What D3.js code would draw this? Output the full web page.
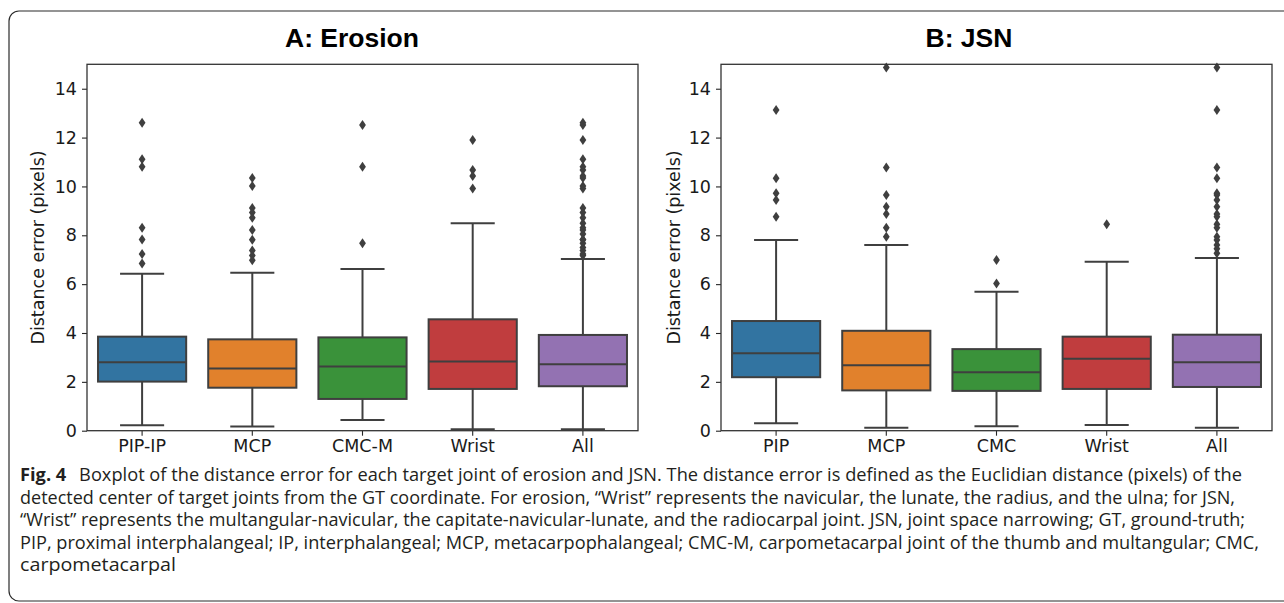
<!DOCTYPE html>
<html>
<head>
<meta charset="utf-8">
<script src="https://cdn.jsdelivr.net/npm/d3@7"></script>
<style>
  html, body { margin: 0; padding: 0; background: #fff; }
  svg { display: block; }
</style>
</head>
<body>
<svg id="chart" width="1284" height="603"></svg>
<script>
// ---------------- data ----------------
const yTicks = [0, 2, 4, 6, 8, 10, 12, 14];
const boxColors = ["#3274a1", "#e1812c", "#3a923a", "#c03d3e", "#9372b2"];

const erosionTitle = "A: Erosion";
const erosionCats = ["PIP-IP", "MCP", "CMC-M", "Wrist", "All"];
const erosionQ1 = [2.01, 1.76, 1.30, 1.71, 1.82];
const erosionMedian = [2.80, 2.55, 2.63, 2.83, 2.72];
const erosionQ3 = [3.85, 3.74, 3.82, 4.56, 3.92];
const erosionLow = [0.22, 0.17, 0.44, 0.06, 0.06];
const erosionHigh = [6.43, 6.47, 6.62, 8.49, 7.03];
const erosionOutliers = [
  [12.61, 11.11, 10.81, 8.31, 7.83, 7.23, 6.85],
  [10.35, 10.02, 9.12, 8.93, 8.72, 8.22, 7.82, 7.38, 7.17, 6.98],
  [12.51, 10.81, 7.67],
  [11.90, 10.67, 10.43, 9.92],
  [12.61, 12.51, 11.90, 11.11, 10.81, 10.67, 10.43, 10.35, 10.02, 9.92, 9.12, 8.93,
   8.72, 8.49, 8.31, 8.22, 8.05, 7.83, 7.82, 7.67, 7.50, 7.38, 7.23, 7.17]
];

const jsnTitle = "B: JSN";
const jsnCats = ["PIP", "MCP", "CMC", "Wrist", "All"];
const jsnQ1 = [2.19, 1.65, 1.63, 1.71, 1.79];
const jsnMedian = [3.17, 2.68, 2.39, 2.95, 2.80];
const jsnQ3 = [4.49, 4.09, 3.34, 3.85, 3.93];
const jsnLow = [0.31, 0.12, 0.18, 0.23, 0.12];
const jsnHigh = [7.81, 7.60, 5.69, 6.92, 7.07];
const jsnOutliers = [
  [13.13, 10.33, 9.72, 9.44, 8.76],
  [14.87, 10.78, 9.65, 9.17, 8.87, 8.31, 7.94],
  [6.99, 6.03],
  [8.45],
  [14.87, 13.13, 10.78, 10.33, 9.72, 9.65, 9.44, 9.17, 8.87, 8.76, 8.45, 8.31,
   7.94, 7.81, 7.60, 7.45, 7.26]
];

const yLabel = "Distance error (pixels)";

const captionBold = "Fig. 4";
const captionLines = [
  "Boxplot of the distance error for each target joint of erosion and JSN. The distance error is defined as the Euclidian distance (pixels) of the",
  "detected center of target joints from the GT coordinate. For erosion, \u201cWrist\u201d represents the navicular, the lunate, the radius, and the ulna; for JSN,",
  "\u201cWrist\u201d represents the multangular-navicular, the capitate-navicular-lunate, and the radiocarpal joint. JSN, joint space narrowing; GT, ground-truth;",
  "PIP, proximal interphalangeal; IP, interphalangeal; MCP, metacarpophalangeal; CMC-M, carpometacarpal joint of the thumb and multangular; CMC,",
  "carpometacarpal"
];

// ---------------- drawing ----------------
const svg = d3.select("#chart");
const lineColor = "#3f3f3f";
const tickFont = "'DejaVu Sans', sans-serif";

// outer rounded frame (right side runs off the page)
svg.append("rect")
  .attr("x", 9).attr("y", 11)
  .attr("width", 1320).attr("height", 590)
  .attr("rx", 10).attr("ry", 10)
  .attr("fill", "none")
  .attr("stroke", "#2b2b2b")
  .attr("stroke-width", 1.2);

function panel(opts) {
  const { left, right, top, bottom, cats, q1, med, q3, lo, hi, out, title, titleX, ylabX } = opts;
  const g = svg.append("g");
  const x = d3.scaleBand().domain(cats).range([left, right]);
  const y = d3.scaleLinear().domain([0, 15]).range([bottom, top]);
  const bw = x.bandwidth() * 0.8;
  const cw = x.bandwidth() * 0.4;

  cats.forEach((c, i) => {
    const cx = x(c) + x.bandwidth() / 2;
    const bg = g.append("g");
    // whiskers
    bg.append("line").attr("x1", cx).attr("x2", cx).attr("y1", y(q1[i])).attr("y2", y(lo[i]));
    bg.append("line").attr("x1", cx).attr("x2", cx).attr("y1", y(q3[i])).attr("y2", y(hi[i]));
    bg.append("line").attr("x1", cx - cw / 2).attr("x2", cx + cw / 2).attr("y1", y(lo[i])).attr("y2", y(lo[i]));
    bg.append("line").attr("x1", cx - cw / 2).attr("x2", cx + cw / 2).attr("y1", y(hi[i])).attr("y2", y(hi[i]));
    bg.selectAll("line").attr("stroke", lineColor).attr("stroke-width", 2);
    // box
    bg.append("rect")
      .attr("x", cx - bw / 2).attr("width", bw)
      .attr("y", y(q3[i])).attr("height", y(q1[i]) - y(q3[i]))
      .attr("fill", boxColors[i])
      .attr("stroke", lineColor).attr("stroke-width", 2);
    bg.append("line")
      .attr("x1", cx - bw / 2).attr("x2", cx + bw / 2)
      .attr("y1", y(med[i])).attr("y2", y(med[i]))
      .attr("stroke", lineColor).attr("stroke-width", 2);
    // fliers (thin diamonds)
    bg.selectAll("path.flier").data(out[i]).enter().append("path")
      .attr("class", "flier")
      .attr("d", "M0,-5L3.4,0L0,5L-3.4,0Z")
      .attr("transform", d => `translate(${cx},${y(d)})`)
      .attr("fill", lineColor);
  });

  // axes
  const ya = g.append("g").attr("transform", `translate(${left},0)`)
    .call(d3.axisLeft(y).tickValues(yTicks).tickSize(5).tickPadding(5));
  const xa = g.append("g").attr("transform", `translate(0,${bottom})`)
    .call(d3.axisBottom(x).tickSize(5).tickPadding(4));
  [ya, xa].forEach(a => {
    a.select(".domain").remove();
    a.selectAll(".tick line").attr("stroke", "#262626").attr("stroke-width", 1.1);
    a.selectAll(".tick text").attr("fill", "#1a1a1a")
      .style("font-family", tickFont).style("font-size", "17.5px");
  });

  // frame
  g.append("rect")
    .attr("x", left).attr("y", top)
    .attr("width", right - left).attr("height", bottom - top)
    .attr("fill", "none").attr("stroke", "#333").attr("stroke-width", 1.3);

  // title
  g.append("text")
    .attr("x", titleX).attr("y", 47)
    .attr("text-anchor", "middle")
    .style("font-family", "'Liberation Sans', Arial, sans-serif")
    .style("font-weight", "bold").style("font-size", "26.5px")
    .attr("fill", "#000")
    .text(title);

  // y label
  g.append("text")
    .attr("transform", `translate(${ylabX},${(top + bottom) / 2}) rotate(-90)`)
    .attr("text-anchor", "middle")
    .style("font-family", tickFont).style("font-size", "17.5px")
    .attr("fill", "#1a1a1a")
    .text(yLabel);
}

panel({
  left: 87, right: 638, top: 64.3, bottom: 430.7,
  cats: erosionCats, q1: erosionQ1, med: erosionMedian, q3: erosionQ3,
  lo: erosionLow, hi: erosionHigh, out: erosionOutliers,
  title: erosionTitle, titleX: 352, ylabX: 44
});
panel({
  left: 721, right: 1272, top: 64.3, bottom: 430.7,
  cats: jsnCats, q1: jsnQ1, med: jsnMedian, q3: jsnQ3,
  lo: jsnLow, hi: jsnHigh, out: jsnOutliers,
  title: jsnTitle, titleX: 969, ylabX: 680
});

// caption
const capFont = "'Open Sans', 'Noto Sans', sans-serif";
const capBaselines = [481, 503.5, 526, 548.5, 571];
const capEnds = [1242, 1235, 1245, 1259, 176];
captionLines.forEach((line, i) => {
  const t = svg.append("text")
    .attr("x", 20).attr("y", capBaselines[i])
    .style("font-family", capFont).style("font-size", "18px")
    .attr("fill", "#231f20")
    .attr("textLength", capEnds[i] - 20)
    .attr("lengthAdjust", "spacingAndGlyphs");
  if (i === 0) {
    t.append("tspan").style("font-weight", "bold").text(captionBold);
    t.append("tspan").attr("dx", 8).text(" " + line);
  } else {
    t.text(line);
  }
});
</script>
</body>
</html>
